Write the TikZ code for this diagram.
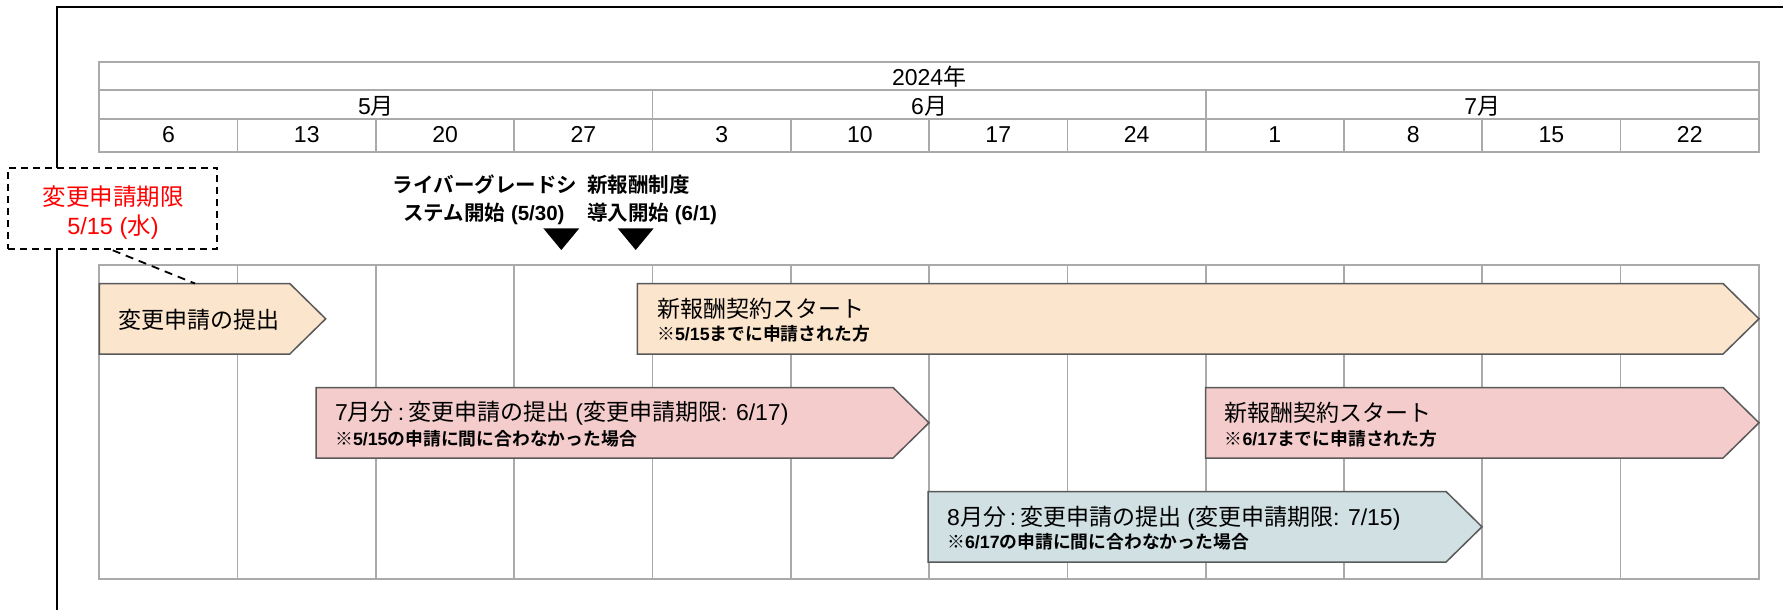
\documentclass[tikz,border=0pt]{standalone}
\usepackage{fontspec}
\setmainfont{Liberation Sans}
\newfontfamily\cjk{Noto Sans CJK JP}[BoldFont={Noto Sans CJK JP Bold}]
\newcommand\J[1]{{\cjk #1}}
\definecolor{gridc}{RGB}{170,170,170}
\definecolor{edgec}{RGB}{89,89,89}
\definecolor{beige}{HTML}{FCE5CD}
\definecolor{pinkc}{HTML}{F4CCCC}
\definecolor{bluec}{HTML}{D0E0E3}
\definecolor{redc}{HTML}{FF0000}
\newcommand\chev[5]{%
  \draw[chevbox, fill=#5] (#2,#4) -- ({#3-36},#4) -- (#3,{#4+35.3}) -- ({#3-36},{#4+70.6}) -- (#2,{#4+70.6}) -- cycle;
  \coordinate (#1) at (#2,#4);}
\begin{document}
\begin{tikzpicture}[x=1pt,y=-1pt,
  gridline/.style={draw=gridc, line width=1.7pt},
  chevbox/.style={draw=edgec, line width=1.5pt, line join=miter},
  hdr/.style={anchor=base, inner sep=0pt, font=\fontsize{23}{27}\selectfont},
  title/.style={anchor=base west, inner sep=0pt, font=\fontsize{23}{28}\selectfont},
  note/.style={anchor=base west, inner sep=0pt, font=\bfseries\fontsize{17.8}{21}\selectfont},
  lbl/.style={inner sep=0pt, font=\bfseries\fontsize{20.5}{26}\selectfont},
  redtxt/.style={anchor=base, inner sep=0pt, text=redc, font=\fontsize{23.5}{28}\selectfont},
  dashbox/.style={draw=black, fill=white, line width=2pt, dash pattern=on 7pt off 5pt, minimum width=209pt, minimum height=81.6pt, inner sep=0pt},
  dashline/.style={draw=black, line width=1.8pt, dash pattern=on 8pt off 6pt}
]
\useasboundingbox (0,0) rectangle (1783,610);
\fill[white] (0,0) rectangle (1783,610);
% frame
\draw[black, line width=2pt] (57.3,612) -- (57.3,7.3) -- (1785,7.3);
% header table
\draw[gridline] (99.3,61.7) rectangle (1759,152.3);
\draw[gridline] (99.3,90) -- (1759,90);
\draw[gridline] (99.3,119) -- (1759,119);
\foreach \k in {4,8} \draw[gridline] ({99.3+138.3*\k},90) -- ({99.3+138.3*\k},152.3);
\foreach \k in {1,...,11} \draw[gridline] ({99.3+138.3*\k},119) -- ({99.3+138.3*\k},152.3);
\node[hdr] (year) at (929.1,85.5) {2024\J{年}};
\node[hdr] (m5) at ({99.3+138.3*2},114.2) {5\J{月}};
\node[hdr] (m6) at ({99.3+138.3*6},114.2) {6\J{月}};
\node[hdr] (m7) at ({99.3+138.3*10},114.2) {7\J{月}};
\foreach \d [count=\i from 0] in {6,13,20,27,3,10,17,24,1,8,15,22}
  \node[hdr] (w\i) at ({99.3+138.3*(\i+0.5)},142.5) {\d};
% lower grid
\draw[gridline] (99.3,265) rectangle (1759,579);
\foreach \k in {1,...,11} \draw[gridline] ({99.3+138.3*\k},265) -- ({99.3+138.3*\k},579);
% milestone labels
\node[lbl, anchor=base] (l1a) at (485,192.8) {\J{ライバーグレードシ}};
\node[lbl, anchor=base] (l1b) at (484,220.8) {\J{ステム開始} (5/30)};
\node[lbl, anchor=base west] (l2a) at (587,192.8) {\J{新報酬制度}};
\node[lbl, anchor=base west] (l2b) at (587,220.8) {\J{導入開始} (6/1)};
\fill[black] (543.3,228.3) -- (579.3,228.3) -- (561.3,250) -- cycle;
\fill[black] (617.7,228.3) -- (653.7,228.3) -- (635.7,250) -- cycle;
% chevrons
\chev{a1}{99.3}{325.7}{283.5}{beige}
\chev{a2}{637.3}{1759}{283.5}{beige}
\chev{a3}{316}{929}{387.5}{pinkc}
\chev{a4}{1205.7}{1759}{387.5}{pinkc}
\chev{a5}{928}{1482}{491.5}{bluec}
\node[title] (t1) at (118,328.5) {\J{変更申請の提出}};
\node[title] (t2) at (657,317) {\J{新報酬契約スタート}};
\node[note] (n2) at (657,340.5) {\J{※}5/15\J{までに申請された方}};
\node[title] (t3) at (335,420.4) {7\J{月分}\,:\,\J{変更申請の提出} (\J{変更申請期限}: 6/17)};
\node[note] (n3) at (335,445) {\J{※}5/15\J{の申請に間に合わなかった場合}};
\node[title] (t4) at (1224.5,421.5) {\J{新報酬契約スタート}};
\node[note] (n4) at (1224.5,445) {\J{※}6/17\J{までに申請された方}};
\node[title] (t5) at (947,525) {8\J{月分}\,:\,\J{変更申請の提出} (\J{変更申請期限}: 7/15)};
\node[note] (n5) at (947,548.5) {\J{※}6/17\J{の申請に間に合わなかった場合}};
% deadline callout
\node[dashbox] (dl) at (112.8,208.5) {};
\node[redtxt] (dl1) at (113,205.6) {\J{変更申請期限}};
\node[redtxt] (dl2) at (113,234.1) {5/15 (\J{水})};
\coordinate (a1pin) at (195,283.5);
\draw[dashline] (dl.south) -- (a1pin);
\end{tikzpicture}
\end{document}
